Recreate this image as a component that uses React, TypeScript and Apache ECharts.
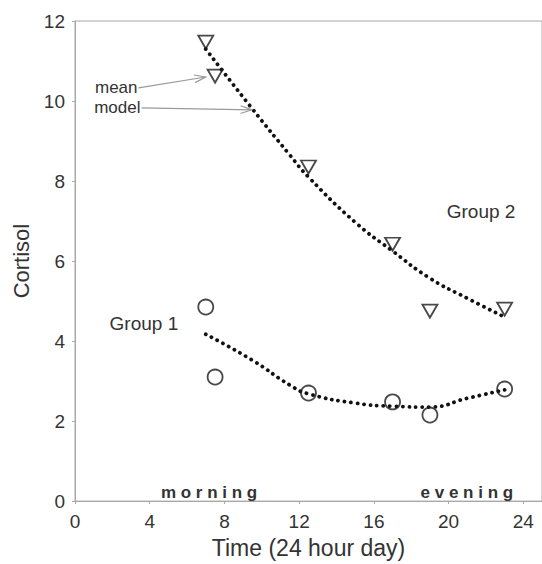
import React, { useEffect, useRef } from "react";
import * as echarts from "echarts";

// Observation times (24 hour day)
const meanTimes = [7, 7.5, 12.5, 17, 19, 23];
// Group means of cortisol
const group1Mean = [4.85, 3.1, 2.7, 2.48, 2.15, 2.8];
const group2Mean = [11.47, 10.62, 8.35, 6.42, 4.75, 4.8];
// Model curve
const modelTimes = [7, 9.5, 11.5, 12.5, 15, 17, 19, 21, 23];
const group1Model = [4.17, 3.52, 2.9, 2.68, 2.45, 2.37, 2.35, 2.57, 2.78];
const group2Model = [11.3, 9.8, 8.65, 8.1, 6.97, 6.25, 5.57, 5.07, 4.6];
// Axis ticks
const xTicks = [0, 4, 8, 12, 16, 20, 24];
const yTicks = [0, 2, 4, 6, 8, 10, 12];

const FONT = "'Liberation Sans', Arial, Helvetica, sans-serif";
const TEXT = "#333";
const AXIS = "#a8a8a8";

export default function App() {
  const ref = useRef<HTMLDivElement>(null);
  useEffect(() => {
    document.body.style.margin = "0";
    const chart = echarts.init(ref.current!, undefined, { renderer: "svg" });
    const zip = (xs: number[], ys: number[]) => xs.map((x, i) => [x, ys[i]]);
    const dotted = {
      color: "#111",
      width: 3.8,
      type: [0.1, 6.4] as any,
      cap: "round" as const,
    };
    chart.setOption({
      animation: false,
      backgroundColor: "#fff",
      textStyle: { fontFamily: FONT },
      grid: {
        left: 75,
        top: 21,
        right: -3,
        bottom: 62.5,
        show: true,
        borderColor: AXIS,
        borderWidth: 1,
        backgroundColor: "transparent",
      },
      xAxis: {
        type: "value",
        min: xTicks[0],
        max: 25,
        interval: xTicks[1] - xTicks[0],
        name: "Time (24 hour day)",
        nameLocation: "middle",
        nameGap: 34,
        nameTextStyle: { fontSize: 23, color: TEXT, fontFamily: FONT },
        axisLine: { show: true, onZero: false, lineStyle: { color: AXIS, width: 1 } },
        axisTick: { show: true, length: 3, lineStyle: { color: AXIS } },
        axisLabel: {
          fontSize: 19,
          color: TEXT,
          margin: 11,
          showMaxLabel: false,
          fontFamily: FONT,
        },
        splitLine: { show: false },
      },
      yAxis: {
        type: "value",
        min: yTicks[0],
        max: yTicks[yTicks.length - 1],
        interval: yTicks[1] - yTicks[0],
        name: "Cortisol",
        nameLocation: "middle",
        nameGap: 39,
        nameTextStyle: { fontSize: 22, color: TEXT, fontFamily: FONT },
        axisLine: { show: true, lineStyle: { color: AXIS, width: 1 } },
        axisTick: { show: true, length: 3, lineStyle: { color: AXIS } },
        axisLabel: { fontSize: 19, color: TEXT, margin: 10, fontFamily: FONT },
        splitLine: { show: false },
      },
      series: [
        {
          name: "Group 1 model",
          type: "line",
          data: zip(modelTimes, group1Model),
          smooth: 0.5,
          showSymbol: false,
          symbol: "none",
          lineStyle: dotted,
          z: 2,
        },
        {
          name: "Group 2 model",
          type: "line",
          data: zip(modelTimes, group2Model),
          smooth: 0.5,
          showSymbol: false,
          symbol: "none",
          lineStyle: dotted,
          z: 2,
        },
        {
          name: "Group 1 mean",
          type: "scatter",
          data: zip(meanTimes, group1Mean),
          symbol: "circle",
          symbolSize: 15,
          itemStyle: { color: "transparent", borderColor: "#1a1a1a", borderWidth: 1.8 },
          z: 3,
        },
        {
          name: "Group 2 mean",
          type: "scatter",
          data: zip(meanTimes, group2Mean),
          symbol: "triangle",
          symbolRotate: 180,
          symbolSize: [15, 13],
          itemStyle: { color: "transparent", borderColor: "#1a1a1a", borderWidth: 1.8 },
          z: 3,
        },
      ],
    });

    const px = (x: number, y: number) =>
      chart.convertToPixel({ gridIndex: 0 }, [x, y]) as number[];
    const arrow = (from: number[], to: number[]) => {
      const a = Math.atan2(to[1] - from[1], to[0] - from[0]);
      const L = 12;
      const sp = 0.33;
      const h1 = [to[0] - L * Math.cos(a - sp), to[1] - L * Math.sin(a - sp)];
      const h2 = [to[0] - L * Math.cos(a + sp), to[1] - L * Math.sin(a + sp)];
      const st = { stroke: "#9a9a9a", lineWidth: 1.2, fill: "none" };
      return [
        { type: "line", shape: { x1: from[0], y1: from[1], x2: to[0], y2: to[1] }, style: st, z: 10 },
        { type: "polyline", shape: { points: [h1, to, h2] }, style: st, z: 10 },
      ];
    };
    const meanFrom = px(3.4, 10.33);
    const meanTo = px(7.0, 10.6);
    const modelFrom = px(3.56, 9.83);
    const modelTo = px(9.47, 9.78);
    const txt = (text: string, x: number, y: number, size: number, bold = false, align = "left") => ({
      type: "text",
      x,
      y,
      style: {
        text,
        fill: TEXT,
        fontSize: size,
        fontFamily: FONT,
        fontWeight: bold ? "bold" : "normal",
        align,
        verticalAlign: "middle",
      },
      z: 10,
    });
    const g1Pos = px(1.85, 4.45);
    const g2Pos = px(19.9, 7.25);
    const morn = px(4.6, 0.22);
    const even = px(18.5, 0.22);
    chart.setOption({
      graphic: [
        ...arrow(meanFrom, meanTo),
        ...arrow(modelFrom, modelTo),
        txt("mean", meanFrom[0] - 1, meanFrom[1], 17, false, "right"),
        txt("model", modelFrom[0] - 1, modelFrom[1], 17, false, "right"),
        txt("Group 1", g1Pos[0], g1Pos[1], 19),
        txt("Group 2", g2Pos[0], g2Pos[1], 19),
        txt("m o r n i n g", morn[0], morn[1], 17, true),
        txt("e v e n i n g", even[0], even[1], 17, true),
      ],
    });
    return () => chart.dispose();
  }, []);
  return <div ref={ref} style={{ width: 542, height: 564 }} />;
}
